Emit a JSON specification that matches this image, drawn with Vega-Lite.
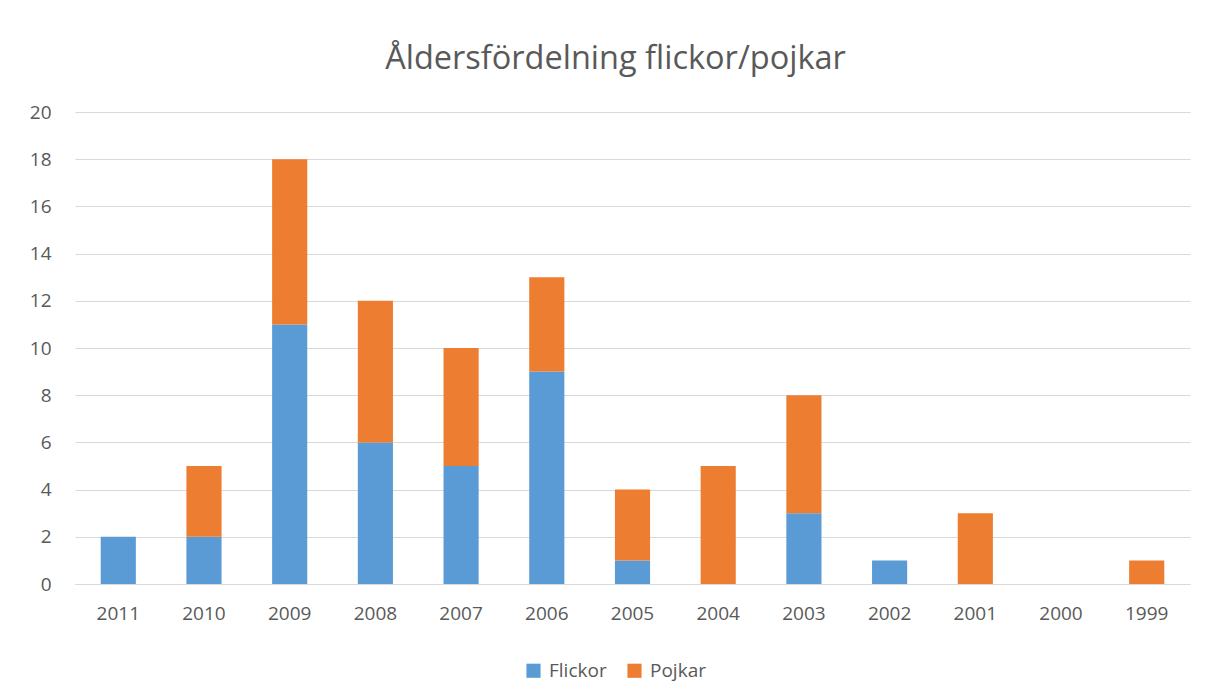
{
  "$schema": "https://vega.github.io/schema/vega-lite/v6.json",
  "autosize": "none",
  "width": 1115,
  "height": 472,
  "padding": {"left": 75, "top": 112, "right": 19, "bottom": 113},
  "background": "white",
  "title": {
    "text": "Åldersfördelning flickor/pojkar",
    "fontSize": 32.5,
    "font": "Open Sans",
    "fontWeight": "normal",
    "color": "#595959",
    "anchor": "middle",
    "dx": -17,
    "offset": 28
  },
  "data": {
    "values": [
      {"year": "2011", "kon": "Flickor", "n": 2, "o": 1},
      {"year": "2011", "kon": "Pojkar", "n": 0, "o": 2},
      {"year": "2010", "kon": "Flickor", "n": 2, "o": 1},
      {"year": "2010", "kon": "Pojkar", "n": 3, "o": 2},
      {"year": "2009", "kon": "Flickor", "n": 11, "o": 1},
      {"year": "2009", "kon": "Pojkar", "n": 7, "o": 2},
      {"year": "2008", "kon": "Flickor", "n": 6, "o": 1},
      {"year": "2008", "kon": "Pojkar", "n": 6, "o": 2},
      {"year": "2007", "kon": "Flickor", "n": 5, "o": 1},
      {"year": "2007", "kon": "Pojkar", "n": 5, "o": 2},
      {"year": "2006", "kon": "Flickor", "n": 9, "o": 1},
      {"year": "2006", "kon": "Pojkar", "n": 4, "o": 2},
      {"year": "2005", "kon": "Flickor", "n": 1, "o": 1},
      {"year": "2005", "kon": "Pojkar", "n": 3, "o": 2},
      {"year": "2004", "kon": "Flickor", "n": 0, "o": 1},
      {"year": "2004", "kon": "Pojkar", "n": 5, "o": 2},
      {"year": "2003", "kon": "Flickor", "n": 3, "o": 1},
      {"year": "2003", "kon": "Pojkar", "n": 5, "o": 2},
      {"year": "2002", "kon": "Flickor", "n": 1, "o": 1},
      {"year": "2002", "kon": "Pojkar", "n": 0, "o": 2},
      {"year": "2001", "kon": "Flickor", "n": 0, "o": 1},
      {"year": "2001", "kon": "Pojkar", "n": 3, "o": 2},
      {"year": "2000", "kon": "Flickor", "n": 0, "o": 1},
      {"year": "2000", "kon": "Pojkar", "n": 0, "o": 2},
      {"year": "1999", "kon": "Flickor", "n": 0, "o": 1},
      {"year": "1999", "kon": "Pojkar", "n": 1, "o": 2}
    ]
  },
  "mark": {"type": "bar"},
  "encoding": {
    "x": {
      "field": "year",
      "type": "nominal",
      "sort": null,
      "scale": {"paddingInner": 0.59, "paddingOuter": 0.3},
      "axis": {
        "title": null,
        "labelAngle": 0,
        "labelFontSize": 19,
        "labelFont": "Open Sans",
        "labelColor": "#595959",
        "labelPadding": 20,
        "ticks": false,
        "domainColor": "#d9d9d9",
        "domainWidth": 1
      }
    },
    "y": {
      "field": "n",
      "type": "quantitative",
      "stack": "zero",
      "scale": {"domain": [0, 20]},
      "axis": {
        "title": null,
        "values": [0, 2, 4, 6, 8, 10, 12, 14, 16, 18, 20],
        "labelOverlap": false,
        "labelFontSize": 19,
        "labelFont": "Open Sans",
        "labelColor": "#595959",
        "labelPadding": 24,
        "ticks": false,
        "domain": false,
        "gridColor": "#d9d9d9",
        "gridWidth": 1
      }
    },
    "color": {
      "field": "kon",
      "type": "nominal",
      "scale": {"domain": ["Flickor", "Pojkar"], "range": ["#5B9BD5", "#ED7D31"]},
      "legend": {
        "title": null,
        "orient": "none",
        "direction": "horizontal",
        "legendX": 449,
        "legendY": 549,
        "symbolType": "square",
        "symbolSize": 200,
        "symbolStrokeWidth": 0,
        "labelFontSize": 19,
        "labelFont": "Open Sans",
        "labelColor": "#595959",
        "columnPadding": 18,
        "labelOffset": 6
      }
    },
    "order": {"field": "o", "type": "quantitative"}
  },
  "config": {"view": {"stroke": null}}
}
